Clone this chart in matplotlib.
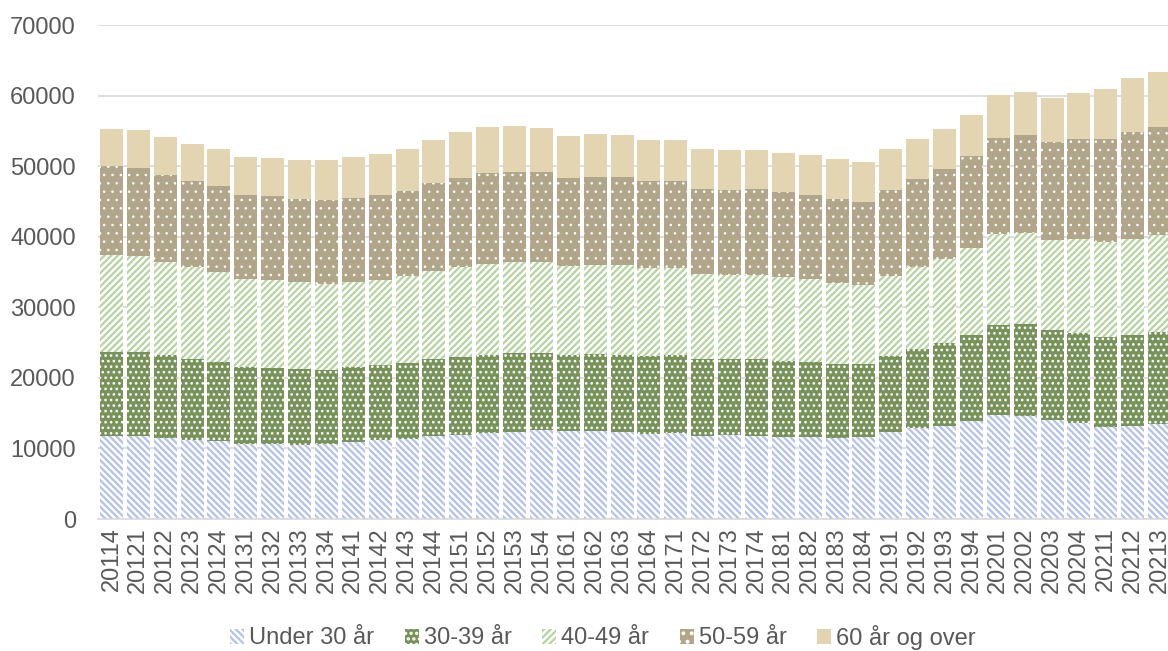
import numpy as np
import matplotlib
matplotlib.use("Agg")
import matplotlib.pyplot as plt

# quarters 2011 Q4 .. 2021 Q3
kvartal = ["20114",
           "20121", "20122", "20123", "20124",
           "20131", "20132", "20133", "20134",
           "20141", "20142", "20143", "20144",
           "20151", "20152", "20153", "20154",
           "20161", "20162", "20163", "20164",
           "20171", "20172", "20173", "20174",
           "20181", "20182", "20183", "20184",
           "20191", "20192", "20193", "20194",
           "20201", "20202", "20203", "20204",
           "20211", "20212", "20213"]

under_30 = [11760, 11760, 11470, 11230, 11000, 10670, 10670, 10520, 10570, 10900,
            11140, 11380, 11750, 11940, 12180, 12370, 12560, 12420, 12420, 12280,
            12090, 12130, 11810, 11900, 11810, 11610, 11610, 11470, 11570, 12280,
            12850, 13230, 13900, 14690, 14550, 13980, 13600, 13030, 13130, 13410]
aar_30_39 = [11940, 11850, 11760, 11430, 11190, 10850, 10710, 10720, 10580, 10620,
             10670, 10760, 10910, 11010, 11050, 11100, 11000, 10810, 11000, 11000,
             11000, 11100, 10800, 10810, 10900, 10770, 10620, 10480, 10380, 10810,
             11230, 11710, 12150, 12810, 13040, 12810, 12810, 12810, 12940, 13090]
aar_40_49 = [13750, 13610, 13190, 13040, 12800, 12480, 12480, 12280, 12190, 12050,
             12040, 12230, 12470, 12700, 12950, 12890, 12900, 12660, 12610, 12660,
             12470, 12280, 12050, 11900, 11900, 11900, 11760, 11470, 11240, 11380,
             11620, 11900, 12350, 12850, 12950, 12800, 13270, 13370, 13610, 13800]
aar_50_59 = [12570, 12570, 12370, 12140, 12140, 11850, 11840, 11810, 11800, 11900,
             12000, 12140, 12420, 12710, 12840, 12810, 12710, 12420, 12470, 12470,
             12330, 12380, 12140, 12000, 12140, 12040, 11950, 11950, 11710, 12140,
             12420, 12710, 12970, 13610, 13840, 13840, 14130, 14600, 15180, 15270]
over_60 = [5220, 5300, 5270, 5260, 5300, 5450, 5450, 5600, 5690, 5830,
           5930, 5980, 6220, 6450, 6500, 6490, 6210, 6030, 6030, 5970,
           5880, 5880, 5690, 5640, 5590, 5500, 5640, 5600, 5690, 5880,
           5790, 5730, 5900, 6160, 6170, 6260, 6590, 7120, 7640, 7730]

serier = ["Under 30 år", "30-39 år", "40-49 år", "50-59 år", "60 år og over"]

plt.rcParams['font.family'] = ['Liberation Sans', 'DejaVu Sans']
plt.rcParams['hatch.linewidth'] = 1.6

tekst = '#595959'
fig = plt.figure(figsize=(11.68, 6.51), dpi=100)
ax = fig.add_axes([98 / 1168, 132 / 651, 1075 / 1168, (519 - 25) / 651])

x = np.arange(len(kvartal))
b = 0.86
bunn = np.zeros(len(kvartal))

# (face, hatch colour, hatch, hatch linewidth)
stil = [('white', '#b4c1ea', '\\\\\\\\\\', 1.6),
        ('#77935a', 'white', '...', 1.1),
        ('white', '#b5d4a0', '/////', 1.6),
        ('#b1a68a', 'white', '..', 0.6),
        ('#e3d5b1', '#e3d5b1', None, 1.0)]

for navn, verdier, (fc, hc, h, hlw) in zip(serier, [under_30, aar_30_39, aar_40_49, aar_50_59, over_60], stil):
    with plt.rc_context({'hatch.linewidth': hlw}):
        ax.bar(x, verdier, b, bottom=bunn, color=fc, edgecolor=hc, linewidth=0,
               hatch=h, label=navn, zorder=2)
    bunn += np.array(verdier)

ax.set_xlim(-0.5, len(kvartal) - 0.5)
ax.set_ylim(0, 70000)
ax.set_yticks(range(0, 70001, 10000))
ax.set_xticks(x)
ax.set_xticklabels(kvartal, rotation=90)
ax.grid(axis='y', color='#d9d9d9', linewidth=1.2, zorder=0)
ax.set_axisbelow(True)
for s in ['top', 'right', 'left']:
    ax.spines[s].set_visible(False)
ax.spines['bottom'].set_color('#d9d9d9')
ax.spines['bottom'].set_linewidth(1.2)
ax.tick_params(axis='both', length=0, labelsize=17, labelcolor=tekst)
ax.tick_params(axis='y', pad=16)
ax.tick_params(axis='x', pad=6)

fig.legend(loc='center', bbox_to_anchor=(603 / 1168, 14 / 651), ncol=5,
           frameon=False, fontsize=17, labelcolor=tekst,
           handlelength=0.6, handleheight=0.6, handletextpad=0.2,
           columnspacing=1.3, borderaxespad=0)

fig.savefig('out.png', dpi=100)
